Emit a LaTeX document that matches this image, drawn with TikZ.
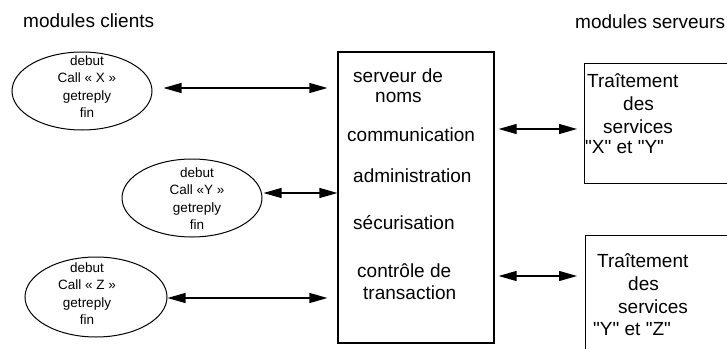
\documentclass[tikz,border=0pt]{standalone}
\usepackage{fontspec}
\setmainfont{Liberation Sans}[Ligatures=TeXOff]
\usetikzlibrary{arrows.meta,shapes.geometric}
\newcommand{\dq}{{\char34}}
\begin{document}
\begin{tikzpicture}[x=1pt,y=-1pt,
  lbl/.style={font=\fontsize{19}{22}\selectfont, inner sep=0pt, anchor=base west},
  small/.style={font=\fontsize{13.5}{17.5}\selectfont, inner sep=0pt, align=center, anchor=north},
  oval/.style={draw, line width=1pt, ellipse, minimum width=140pt, minimum height=78pt, inner sep=0pt},
  box/.style={draw, line width=1.2pt, rectangle, inner sep=0pt},
  dbl/.style={line width=1.2pt, {Triangle[length=18pt,width=10pt]}-{Triangle[length=18pt,width=10pt]}},
]
\useasboundingbox (0,0) rectangle (727,348);
\clip (0,0) rectangle (727,348);

% titles
\node[lbl] (tc) at (23,27) {modules clients};
\node[lbl] (ts) at (575,28) {modules serveurs};

% client ellipses
\node[oval] (e1) at (82,91) {};
\node[small] (t1) at (87,55.5) {debut\\Call « X »\\getreply\\fin};
\node[oval] (e2) at (192,198) {};
\node[small] (t2) at (197,167.5) {debut\\Call «Y »\\getreply\\fin};
\node[oval, minimum width=142pt, minimum height=80pt] (e3) at (96,297) {};
\node[small] (t3) at (87,262.5) {debut\\Call « Z »\\getreply\\fin};

% central box
\node[box, minimum width=156pt, minimum height=291pt] (srv) at (416,197.5) {};
\node[lbl] (b1) at (353,82) {serveur de};
\node[lbl] (b2) at (375,102) {noms};
\node[lbl] (b3) at (347,141) {communication};
\node[lbl] (b4) at (353,182) {administration};
\node[lbl] (b5) at (353,229) {sécurisation};
\node[lbl] (b6) at (357,277) {contrôle de};
\node[lbl] (b7) at (363,299) {transaction};

% server boxes
\node[box, minimum width=200pt, minimum height=120pt, anchor=north west] (s1) at (584,63) {};
\node[lbl] (s1a) at (587,87) {Traîtement};
\node[lbl] (s1b) at (623,110) {des};
\node[lbl] (s1c) at (603,133) {services};
\node[lbl] (s1d) at (585,153) {\dq X\dq{} et \dq Y\dq};

\node[box, minimum width=200pt, minimum height=150pt, anchor=north west] (s2) at (585,235) {};
\node[lbl] (s2a) at (597,267) {Traîtement};
\node[lbl] (s2b) at (628,290) {des};
\node[lbl] (s2c) at (618,313) {services};
\node[lbl] (s2d) at (593,335) {\dq Y\dq{} et \dq Z\dq};

% connector rows
\coordinate (l1) at (0,88);
\coordinate (l2) at (0,193);
\coordinate (l3) at (0,298);
\coordinate (r1) at (0,129);
\coordinate (r2) at (0,276);

\draw[dbl, shorten <=11pt, shorten >=10pt] (e1.east |- l1) -- (srv.west |- l1);
\draw[dbl, shorten <=1pt] (e2.east |- l2) -- (srv.west |- l2);
\draw[dbl, shorten >=10pt] (e3.east |- l3) -- (srv.west |- l3);
\draw[dbl, shorten <=4pt, shorten >=7pt] (srv.east |- r1) -- (s1.west |- r1);
\draw[dbl, shorten <=4pt, shorten >=8pt] (srv.east |- r2) -- (s2.west |- r2);
\end{tikzpicture}
\end{document}
